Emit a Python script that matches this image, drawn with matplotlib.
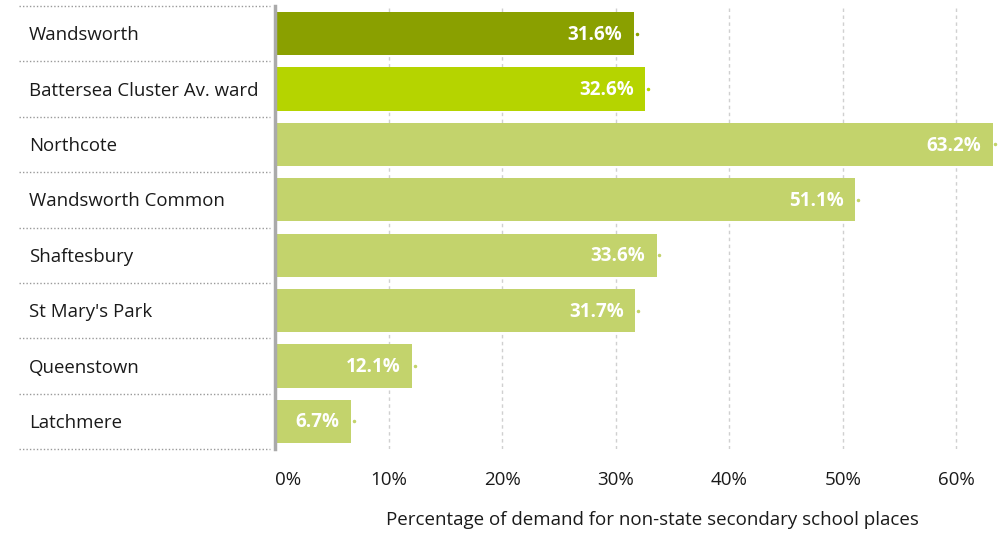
import matplotlib.pyplot as plt
from matplotlib.lines import Line2D

plt.rcParams['font.family'] = ['Open Sans', 'DejaVu Sans']

wards = ["Wandsworth", "Battersea Cluster Av. ward", "Northcote", "Wandsworth Common",
         "Shaftesbury", "St Mary's Park", "Queenstown", "Latchmere"]
values = [31.6, 32.6, 63.2, 51.1, 33.6, 31.7, 12.1, 6.7]
colors = ["#8aa000", "#b5d400", "#c3d36c", "#c3d36c", "#c3d36c", "#c3d36c", "#c3d36c", "#c3d36c"]
ticks = [0, 10, 20, 30, 40, 50, 60]

fig = plt.figure(figsize=(10.03, 5.33), dpi=100)
ax = fig.add_axes([275 / 1003, 1 - 449 / 533, 721 / 1003, 443 / 533])

y = list(range(len(wards)))
ax.barh(y, values, height=0.78, color=colors, zorder=3)
ax.set_ylim(len(wards) - 0.5, -0.5)
ax.set_xlim(0, 63.5)

for i, v in enumerate(values):
    ax.text(v - 1.0, i + 0.02, f"{v}%", ha='right', va='center', color='white',
            fontsize=13.5, fontweight='bold', zorder=4)
    ax.plot(v + 0.25, i, marker='o', markersize=1.5, color=colors[i], zorder=4,
            clip_on=False)

ax.set_xticks(ticks)
ax.set_xticklabels([f"{t}%" for t in ticks], fontsize=13.5, color='#1a1a1a')
ax.get_xticklabels()[0].set_horizontalalignment('left')
ax.tick_params(axis='x', length=0, pad=16)
ax.set_yticks([])
ax.grid(axis='x', linestyle=(0, (2.5, 2.5)), color='#d0d0d0', linewidth=1, zorder=0)
ax.get_xgridlines()[0].set_visible(False)

for s in ['top', 'right', 'bottom']:
    ax.spines[s].set_visible(False)
ax.spines['left'].set_color('#aaaaaa')
ax.spines['left'].set_linewidth(2.5)
ax.spines['left'].set_zorder(5)

ax.set_xlabel("Percentage of demand for non-state secondary school places",
              fontsize=13.5, color='#1a1a1a')
ax.xaxis.set_label_coords(0.524, -0.14)

# ward names and dotted separators left of the axis
tr = ax.get_yaxis_transform()
x0 = (19 - 275) / 721
x1 = (270 - 275) / 721
for i, w in enumerate(wards):
    ax.text((29 - 275) / 721, i + 0.03, w, transform=tr, ha='left', va='center',
            fontsize=13.4, color='#1a1a1a')
for k in range(len(wards) + 1):
    yy = k - 0.5
    fig.add_artist(Line2D([x0, x1], [yy, yy], transform=tr, linestyle=(0, (1, 1.5)),
                          color='#999999', linewidth=1, clip_on=False))

fig.savefig("out.png", dpi=100)
